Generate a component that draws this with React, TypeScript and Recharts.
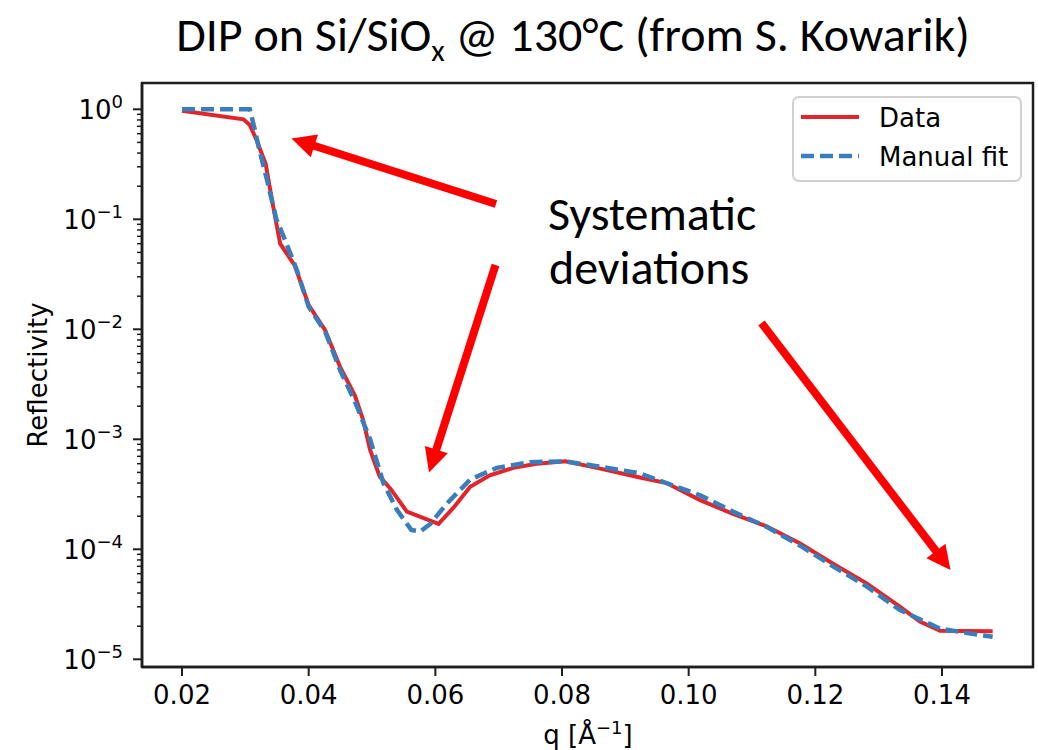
import React from 'react';
import { LineChart, Line, XAxis, YAxis, Legend, ReferenceArea } from 'recharts';

// Measured reflectivity (red) and manual model fit (blue dashed)
const dataQ = [
  0.02, 0.0297, 0.0307, 0.0318, 0.0332, 0.0344, 0.0355, 0.0378, 0.04, 0.0426,
  0.045, 0.0473, 0.0486, 0.0497, 0.0512, 0.053, 0.0555, 0.0605, 0.0629, 0.0655,
  0.0686, 0.0723, 0.076, 0.0805, 0.0855, 0.0923, 0.0965, 0.1018, 0.107, 0.1123,
  0.1176, 0.1228, 0.1281, 0.1334, 0.1365, 0.1397, 0.148,
];
const dataR = [
  0.97, 0.81, 0.72, 0.52, 0.32, 0.13, 0.06, 0.038, 0.0166, 0.0098,
  0.0045, 0.0025, 0.0015, 0.0008, 0.00046, 0.00035, 0.00022, 0.00017, 0.00024, 0.00037,
  0.00047, 0.00055, 0.0006, 0.00063, 0.00055, 0.00045, 0.0004, 0.00028, 0.00021, 0.000162,
  0.000113, 0.000074, 0.000049, 0.00003, 0.000022, 0.0000182, 0.000018,
];

const fitQ = [
  0.02, 0.0307, 0.0315, 0.0322, 0.0334, 0.0349, 0.0365, 0.0381, 0.04, 0.0426,
  0.045, 0.0473, 0.0497, 0.0518, 0.0539, 0.0562, 0.0576, 0.0592, 0.0618, 0.0655,
  0.0697, 0.075, 0.0805, 0.0855, 0.0923, 0.1018, 0.107, 0.1123, 0.1176, 0.1228,
  0.1281, 0.1334, 0.1397, 0.144, 0.148,
];
const fitR = [
  1.0, 1.0, 0.65, 0.43, 0.23, 0.1, 0.06, 0.035, 0.016, 0.0095,
  0.0042, 0.0022, 0.001, 0.0004, 0.00023, 0.00015, 0.000145, 0.00017, 0.00026, 0.00043,
  0.00055, 0.00062, 0.00063, 0.00057, 0.00049, 0.00031, 0.00022, 0.00016, 0.000108, 0.00007,
  0.000046, 0.000028, 0.000019, 0.0000173, 0.000016,
];

const xTicks = [0.02, 0.04, 0.06, 0.08, 0.1, 0.12, 0.14];
const yDecades = [-5, -4, -3, -2, -1, 0];
const yMinorSteps = [2, 3, 4, 5, 6, 7, 8, 9];

const X_DOMAIN: [number, number] = [0.01368, 0.15437];
const Y_DOMAIN: [number, number] = [8.51e-6, 1.734];

const dataSeries = dataQ.map((q, i) => ({ q, r: dataR[i] }));
const fitSeries = fitQ.map((q, i) => ({ q, r: fitR[i] }));

const yTicks: number[] = [];
yDecades.forEach((d) => {
  yTicks.push(Math.pow(10, d));
  if (d < 0) yMinorSteps.forEach((m) => yTicks.push(m * Math.pow(10, d)));
});

const RED = '#e0252b';
const BLUE = '#3a7dbb';
const AXIS = '#1e1e1e';
const FONT = 'DejaVu Sans, sans-serif';
const TITLE_FONT = 'Carlito, Lato, sans-serif';

const YTick = ({ x, y, payload }: any) => {
  const v = payload.value;
  const lg = Math.log10(v);
  const major = Math.abs(lg - Math.round(lg)) < 1e-6;
  if (!major) {
    return <line x1={x} x2={x - 5} y1={y} y2={y} stroke={AXIS} strokeWidth={1.5} />;
  }
  const exp = Math.round(lg);
  const expText = exp < 0 ? `\u2212${-exp}` : `${exp}`;
  return (
    <g>
      <line x1={x} x2={x - 9} y1={y} y2={y} stroke={AXIS} strokeWidth={2} />
      <text x={x - 19} y={y + 9.5} textAnchor="end" fontFamily={FONT} fontSize={26} fill="#000">
        10
        <tspan dy={-10.5} fontSize={18}>{expText}</tspan>
      </text>
    </g>
  );
};

const LegendBox = () => (
  <svg width={232} height={88}>
    <rect x={1} y={1} width={228} height={84} rx={6} fill="#fff" fillOpacity={0.8} stroke="#d0d0d0" strokeWidth={2} />
    <line x1={9} x2={67} y1={21} y2={21} stroke={RED} strokeWidth={4} />
    <text x={87} y={30.5} fontFamily={FONT} fontSize={26} fill="#000">Data</text>
    <line x1={9} x2={67} y1={60} y2={60} stroke={BLUE} strokeWidth={4.5} strokeDasharray="13 6" />
    <text x={87} y={69.5} fontFamily={FONT} fontSize={26} fill="#000">Manual fit</text>
  </svg>
);

// arrow annotation: tail -> tip, with a filled triangular head
const arrows = [
  { from: [496, 204], to: [291.5, 138.5] },
  { from: [495.5, 265], to: [429, 472.5] },
  { from: [761.5, 323], to: [950.5, 570] },
];

const Arrow = ({ from, to }: { from: number[]; to: number[] }) => {
  const [x1, y1] = from;
  const [x2, y2] = to;
  const dx = x2 - x1;
  const dy = y2 - y1;
  const len = Math.hypot(dx, dy);
  const ux = dx / len;
  const uy = dy / len;
  const headLen = 24;
  const half = 12;
  const bx = x2 - ux * headLen;
  const by = y2 - uy * headLen;
  const pts = [
    [x2, y2],
    [bx - uy * half, by + ux * half],
    [bx + uy * half, by - ux * half],
  ]
    .map((p) => p.join(','))
    .join(' ');
  return (
    <g>
      <line x1={x1} y1={y1} x2={bx + ux * 2} y2={by + uy * 2} stroke="#ff0000" strokeWidth={8} />
      <polygon points={pts} fill="#ff0000" />
    </g>
  );
};

export default function App() {
  return (
    <div style={{ position: 'absolute', left: 0, top: 0, width: 1038, height: 750, background: '#fff', overflow: 'hidden' }}>
      <LineChart width={1038} height={750} margin={{ top: 83, right: 5, bottom: 0, left: 0 }}>
        <XAxis
          dataKey="q"
          type="number"
          domain={X_DOMAIN}
          allowDataOverflow
          ticks={xTicks}
          interval={0}
          height={83}
          tickFormatter={(v: number) => v.toFixed(2)}
          tickSize={9}
          tickMargin={10}
          tick={{ fontSize: 26, fill: '#000', fontFamily: FONT }}
          tickLine={{ stroke: AXIS, strokeWidth: 2 }}
          axisLine={{ stroke: AXIS, strokeWidth: 2.5 }}
        />
        <YAxis
          dataKey="r"
          scale="log"
          type="number"
          domain={Y_DOMAIN}
          allowDataOverflow
          ticks={yTicks}
          interval={0}
          width={142}
          tickSize={0}
          tickMargin={0}
          tick={<YTick />}
          tickLine={false}
          axisLine={{ stroke: AXIS, strokeWidth: 2.5 }}
        />
        {/* plot frame (top and right spines) */}
        <ReferenceArea
          x1={X_DOMAIN[0]}
          x2={X_DOMAIN[1]}
          y1={Y_DOMAIN[0]}
          y2={Y_DOMAIN[1]}
          fill="none"
          fillOpacity={0}
          stroke={AXIS}
          strokeWidth={2.5}
          strokeOpacity={1}
          ifOverflow="visible"
        />
        <Legend
          layout="horizontal"
          verticalAlign="middle"
          align="center"
          content={() => <LegendBox />}
          wrapperStyle={{ position: 'absolute', left: 792, top: 96, width: 232, height: 88 }}
        />
        <Line
          data={dataSeries}
          dataKey="r"
          name="Data"
          type="linear"
          stroke={RED}
          strokeWidth={4}
          dot={false}
          isAnimationActive={false}
        />
        <Line
          data={fitSeries}
          dataKey="r"
          name="Manual fit"
          type="linear"
          stroke={BLUE}
          strokeWidth={4.5}
          strokeDasharray="13 6"
          dot={false}
          isAnimationActive={false}
        />
      </LineChart>
      <svg
        width={1038}
        height={750}
        style={{ position: 'absolute', left: 0, top: 0, pointerEvents: 'none' }}
      >
        <text x={573} y={51} textAnchor="middle" fontFamily={TITLE_FONT} fontSize={48} fill="#000">
          DIP on Si/SiO
          <tspan fontSize={31} dy={10}>x</tspan>
          <tspan dy={-10}> @ 130°C (from S. Kowarik)</tspan>
        </text>
        <text x={548} y={230} fontFamily={TITLE_FONT} fontSize={48} fill="#000">Systematic</text>
        <text x={549} y={284} fontFamily={TITLE_FONT} fontSize={48} fill="#000">deviations</text>
        <text
          transform="translate(47,375) rotate(-90)"
          textAnchor="middle"
          fontFamily={FONT}
          fontSize={26}
          fill="#000"
        >
          Reflectivity
        </text>
        <text x={588} y={744} textAnchor="middle" fontFamily={FONT} fontSize={26} fill="#000">
          q [Å
          <tspan dy={-10} fontSize={18}>{'\u22121'}</tspan>
          <tspan dy={10}>]</tspan>
        </text>
        {arrows.map((a, i) => (
          <Arrow key={i} from={a.from} to={a.to} />
        ))}
      </svg>
    </div>
  );
}
